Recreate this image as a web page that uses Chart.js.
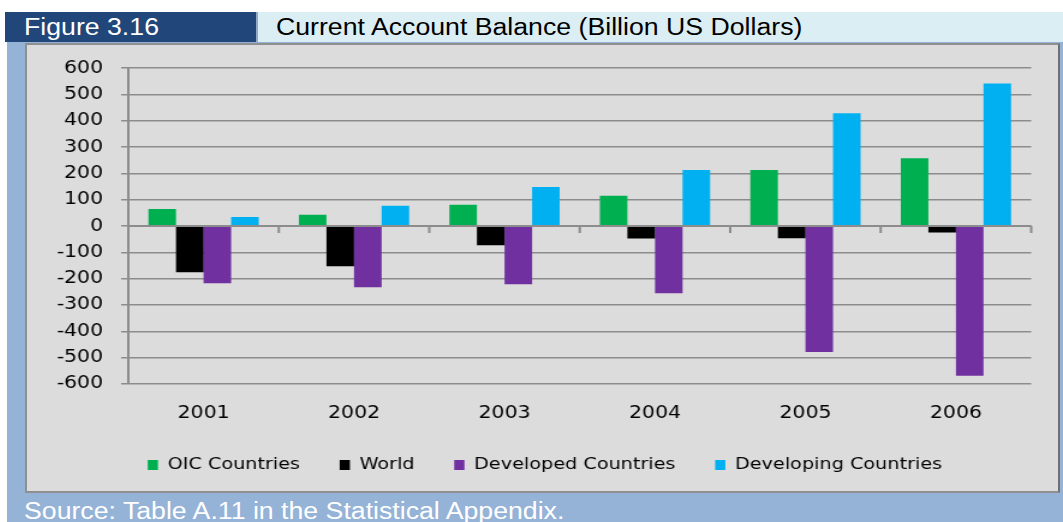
<!DOCTYPE html>
<html>
<head>
<meta charset="utf-8">
<script src="https://cdn.jsdelivr.net/npm/chart.js@4.4.1/dist/chart.umd.min.js"></script>
<style>
  body { margin: 0; width: 1063px; height: 522px; background: #fff; position: relative; overflow: hidden; font-family: "Liberation Sans", Arial, sans-serif; }
  #strip { position: absolute; left: 7px; top: 42px; width: 1056px; height: 480px; background: #95b3d7; }
  #figno { position: absolute; left: 5px; top: 12px; width: 251px; height: 30px; background: #21467a; color: #fff; font-size: 23px; line-height: 30px; box-sizing: border-box; padding-left: 19px; }
  #title { position: absolute; left: 256px; top: 12px; width: 807px; height: 30px; background: #dbeef4; color: #000; font-size: 23px; line-height: 30px; box-sizing: border-box; padding-left: 18px; border-left: 2px solid #8fa9c8; }
  #panel { position: absolute; left: 25px; top: 43px; width: 1035px; height: 450px; background: #dcdcdc; border: 2px solid #8f8f8f; border-right-color: #6f6f6f; box-sizing: border-box; }
  /* the original figure is stretched sideways, so the canvas is drawn narrow and widened */
  #wrap { position: absolute; left: 25px; top: 43px; width: 862.5px; height: 450px; transform: scaleX(1.2); transform-origin: 0 0; }
  #source { position: absolute; left: 24px; top: 496px; color: #fff; font-size: 23px; line-height: 30px; white-space: nowrap; }
  .wide { display: inline-block; transform: scaleX(1.16); transform-origin: 0 50%; white-space: nowrap; }
</style>
</head>
<body>
<div id="strip"></div>
<div id="figno"><span class="wide">Figure 3.16</span></div>
<div id="title"><span class="wide">Current Account Balance (Billion US Dollars)</span></div>
<div id="panel"></div>
<div id="wrap"><canvas id="myChart"></canvas></div>
<div id="source"><span class="wide">Source: Table A.11 in the Statistical Appendix.</span></div>
<script>
// values, billion US dollars
let years = ['2001', '2002', '2003', '2004', '2005', '2006'];
let oic = [65, 43, 81, 115, 213, 258];
let world = [-175, -153, -73, -47, -46, -24];
let developed = [-217, -232, -221, -255, -478, -569];
let developing = [35, 77, 149, 213, 429, 542];
let yTicks = [600, 500, 400, 300, 200, 100, 0, -100, -200, -300, -400, -500, -600];

let gridGray = '#8c8c8c';

// zero line with small tick marks between the year groups
let zeroAxis = {
  id: 'zeroAxis',
  afterLayout(chart) {
    // nudge the legend row: up a little and right to undo the trailing padding
    chart.legend.top -= 5;
    chart.legend.bottom -= 5;
    chart.legend.left += 14;
    chart.legend.right += 14;
  },
  afterDatasetsDraw(chart) {
    let ctx = chart.ctx;
    let y = chart.scales.y;
    let y0 = y.getPixelForValue(0);
    let area = chart.chartArea;
    ctx.save();
    ctx.strokeStyle = gridGray;
    ctx.lineWidth = 2;
    ctx.beginPath();
    ctx.moveTo(area.left, y0);
    ctx.lineTo(area.right, y0);
    let step = (area.right - area.left) / years.length;
    for (let i = 1; i <= years.length; i++) {
      let px = area.left + step * i;
      ctx.moveTo(px, y0);
      ctx.lineTo(px, y0 + 7);
    }
    ctx.stroke();
    ctx.restore();
  }
};

let ctx = document.getElementById('myChart');
let myChart = new Chart(ctx, {
  type: 'bar',
  data: {
    labels: years,
    datasets: [
      { label: 'OIC Countries', data: oic, backgroundColor: '#00b050' },
      { label: 'World', data: world, backgroundColor: '#000000' },
      { label: 'Developed Countries', data: developed, backgroundColor: '#7030a0' },
      { label: 'Developing Countries', data: developing, backgroundColor: '#00b0f0' }
    ]
  },
  options: {
    responsive: true,
    maintainAspectRatio: false,
    animation: false,
    barPercentage: 1,
    categoryPercentage: 0.733,
    layout: { padding: { top: 12, right: 25, bottom: 5, left: 0 } },
    plugins: {
      tooltip: { enabled: false },
      legend: {
        position: 'bottom',
        labels: {
          boxWidth: 8.5,
          boxHeight: 10,
          padding: 33,
          color: '#000',
          font: { family: 'DejaVu Sans', size: 16 }
        }
      }
    },
    scales: {
      x: {
        grid: { display: false, drawTicks: false },
        border: { display: false },
        ticks: { color: '#000', padding: 19, font: { family: 'DejaVu Sans', size: 17 } },
        afterFit(scale) { scale.height = 45; }
      },
      y: {
        min: -600,
        max: 600,
        afterBuildTicks(scale) { scale.ticks = yTicks.map(v => ({ value: v })); },
        grid: { color: gridGray, lineWidth: 1.5, tickLength: 6 },
        border: { display: true, color: gridGray, width: 2 },
        ticks: { color: '#000', padding: 15, font: { family: 'DejaVu Sans', size: 17 } },
        afterFit(scale) { scale.width = 86; }
      }
    }
  },
  plugins: [zeroAxis]
});
</script>
</body>
</html>
